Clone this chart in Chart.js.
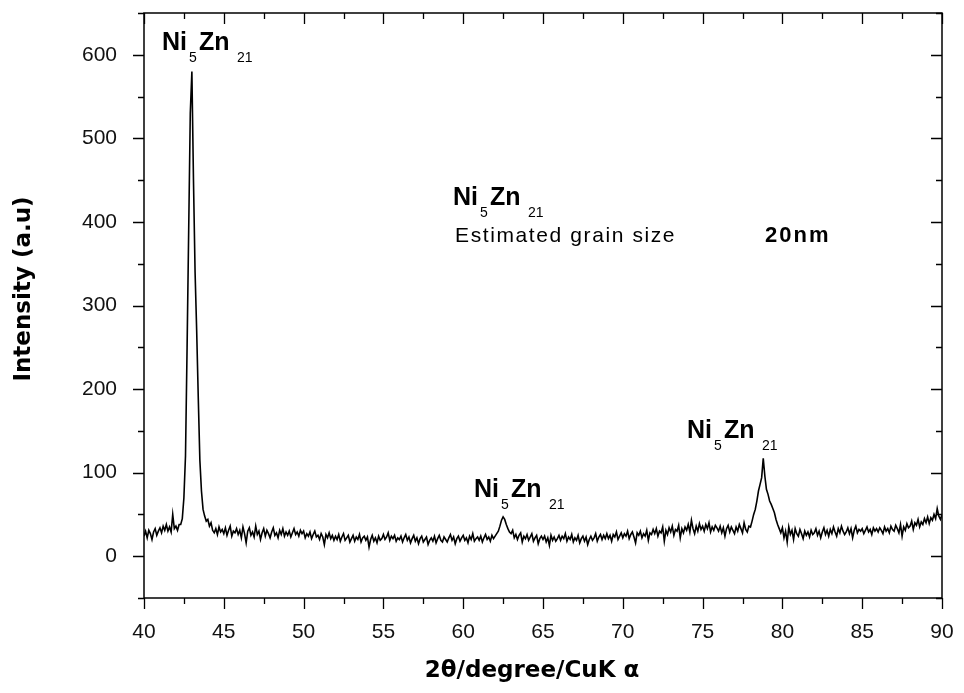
<!DOCTYPE html>
<html>
<head>
<meta charset="utf-8">
<title>Ni5Zn21 XRD</title>
<script src="https://cdn.jsdelivr.net/npm/chart.js@4.4.1/dist/chart.umd.min.js"></script>
<style>
  html, body { margin: 0; padding: 0; background: #fff; }
  #wrap { width: 964px; height: 693px; }
</style>
</head>
<body>
<div id="wrap"><canvas id="xrd" width="964" height="693"></canvas></div>
<script>
// 2theta axis: first angle and step of the scan (degrees)
const twoThetaStart = 40;
const twoThetaStep = 0.1;

// intensity, one row per degree (40.0 ... 40.9, 41.0 ...)
const intensity = [
  24, 30, 22, 31, 27, 20, 29, 33, 25, 30,
  34, 28, 36, 31, 38, 30, 35, 29, 50, 33,
  36, 31, 38, 38, 45, 70, 120, 250, 390, 530,
  580, 450, 340, 270, 190, 115, 78, 56, 48, 42,
  44, 36, 40, 31, 28, 33, 26, 35, 29, 32,
  27, 34, 25, 31, 36, 24, 30, 28, 33, 26,
  31, 22, 35, 27, 16, 30, 34, 25, 29, 23,
  36, 26, 30, 20, 28, 33, 24, 31, 27, 22,
  29, 34, 25, 28, 22, 31, 26, 33, 24, 29,
  25, 30, 23, 28, 33, 26, 29, 24, 31, 27,
  30, 22, 27, 24, 29, 21, 26, 30, 23, 25,
  20, 27, 23, 14, 26, 22, 28, 21, 25, 19,
  24, 20, 26, 18, 23, 27, 19, 22, 25, 17,
  21, 25, 18, 23, 20, 26, 17, 22, 24, 19,
  23, 11, 20, 25, 18, 22, 16, 24, 19, 21,
  26, 20, 23, 28, 19, 24, 21, 25, 18, 22,
  20, 24, 17, 22, 26, 19, 23, 16, 21, 25,
  18, 22, 15, 21, 24, 17, 20, 23, 14, 19,
  22, 18, 24, 16, 21, 25, 19, 17, 23, 20,
  17, 22, 26, 19, 23, 15, 21, 24, 18, 22,
  25, 19, 22, 16, 24, 20, 27, 18, 21, 23,
  19, 24, 17, 22, 26, 20, 23, 18, 25, 21,
  24, 27, 30, 36, 43, 47, 44, 38, 33, 29,
  27, 31, 22, 26, 20, 25, 28, 17, 24, 21,
  26, 19, 23, 27, 18, 22, 25, 15, 21, 24,
  20, 24, 17, 22, 13, 25, 19, 23, 18, 21,
  25, 19, 24, 21, 27, 18, 23, 20, 26, 17,
  22, 19, 25, 16, 21, 24, 18, 23, 14, 20,
  24, 19, 22, 27, 18, 23, 26, 20, 25, 21,
  27, 21, 25, 18, 26, 23, 29, 20, 24, 28,
  22, 27, 24, 30, 21, 26, 29, 23, 16, 28,
  25, 30, 22, 27, 24, 31, 19, 28, 26, 32,
  27, 33, 24, 30, 28, 35, 18, 31, 26, 34,
  29, 36, 25, 32, 30, 37, 22, 33, 28, 35,
  31, 38, 29, 43, 33, 27, 36, 30, 39, 32,
  36, 30, 38, 33, 40, 29, 35, 31, 37, 34,
  30, 36, 28, 34, 24, 33, 37, 29, 35, 31,
  27, 35, 30, 38, 33, 28, 40, 32, 29, 36,
  35, 42, 50, 56, 66, 78, 86, 94, 117, 96,
  80, 74, 66, 62, 57, 52, 44, 38, 33, 28,
  34, 22, 30, 17, 35, 26, 31, 20, 33, 27,
  24, 32, 27, 21, 30, 25, 29, 23, 31, 26,
  28, 33, 25, 30, 22, 29, 34, 26, 31, 24,
  32, 27, 35, 29, 24, 33, 28, 36, 30, 26,
  29, 34, 27, 33, 22, 31, 36, 28, 32, 30,
  33, 27, 31, 35, 29, 32, 26, 34, 30, 33,
  29, 34, 31, 27, 35, 30, 33, 28, 36, 32,
  30, 37, 33, 28, 38, 24, 35, 31, 39, 34,
  36, 42, 32, 40, 37, 44, 35, 41, 38, 45,
  40, 47, 39, 46, 43, 50, 45, 57, 48, 44,
  50
];

const xMajorTicks = [40, 45, 50, 55, 60, 65, 70, 75, 80, 85, 90];
const yMajorTicks = [0, 100, 200, 300, 400, 500, 600];

// phase labels, anchored in data units (2theta, intensity at text baseline)
const phaseLabels = [
  { x: 41.13, y: 606 },
  { x: 59.36, y: 420 },
  { x: 60.68, y: 71 },
  { x: 74.02, y: 142 }
];
const grainNote = { text: 'Estimated grain size', value: '20nm', x: 59.49, valueX: 78.91, y: 376 };

const points = intensity.map((v, i) => ({ x: +(twoThetaStart + i * twoThetaStep).toFixed(2), y: v }));

function drawPhase(ctx, px, py) {
  ctx.textAlign = 'left';
  ctx.textBaseline = 'alphabetic';
  ctx.font = 'bold 25px "Liberation Sans", Arial, sans-serif';
  ctx.fillText('Ni', px, py);
  ctx.fillText('Zn', px + 37, py);
  ctx.font = '14px "Liberation Sans", Arial, sans-serif';
  ctx.fillText('5', px + 27, py + 12);
  ctx.fillText('21', px + 75, py + 12);
}

const framePlugin = {
  id: 'frame',
  afterDraw(chart) {
    const { ctx, chartArea: a, scales: { x, y } } = chart;
    ctx.save();
    ctx.strokeStyle = '#000';
    ctx.fillStyle = '#000';
    ctx.lineWidth = 1.5;
    ctx.strokeRect(a.left, a.top, a.right - a.left, a.bottom - a.top);

    ctx.lineWidth = 1.3;
    ctx.beginPath();
    x.ticks.forEach(t => {
      const px = Math.round(x.getPixelForValue(t.value)) + 0.5;
      const len = xMajorTicks.includes(t.value) ? 11 : 6;
      ctx.moveTo(px, a.bottom); ctx.lineTo(px, a.bottom + len);
      ctx.moveTo(px, a.top); ctx.lineTo(px, a.top + len);
    });
    y.ticks.forEach(t => {
      const py = Math.round(y.getPixelForValue(t.value)) + 0.5;
      const len = t.value % 100 === 0 ? 11 : 6;
      ctx.moveTo(a.left - len, py); ctx.lineTo(a.left, py);
      ctx.moveTo(a.right - len, py); ctx.lineTo(a.right, py);
    });
    ctx.stroke();

    // axis titles
    ctx.font = 'bold 23px "DejaVu Sans", sans-serif';
    ctx.textAlign = 'center';
    ctx.textBaseline = 'middle';
    ctx.fillText('2θ/degree/CuK α', 532, 671);
    ctx.save();
    ctx.translate(24, 289);
    ctx.rotate(-Math.PI / 2);
    ctx.fillText('Intensity (a.u)', 0, 0);
    ctx.restore();

    // phase labels and grain size note
    phaseLabels.forEach(l => drawPhase(ctx, x.getPixelForValue(l.x), y.getPixelForValue(l.y)));
    ctx.textAlign = 'left';
    ctx.textBaseline = 'alphabetic';
    ctx.font = '21px "Liberation Sans", Arial, sans-serif';
    ctx.letterSpacing = '1.6px';
    ctx.fillText(grainNote.text, x.getPixelForValue(grainNote.x), y.getPixelForValue(grainNote.y));
    ctx.font = 'bold 22px "Liberation Sans", Arial, sans-serif';
    ctx.letterSpacing = '2px';
    ctx.fillText(grainNote.value, x.getPixelForValue(grainNote.valueX), y.getPixelForValue(grainNote.y));
    ctx.letterSpacing = '0px';
    ctx.restore();
  }
};

const tickFont = { family: '"Liberation Sans", Arial, sans-serif', size: 21 };

function noEdgePadding(s) {
  s.paddingTop = 0;
  s.paddingBottom = 0;
  s.paddingLeft = 0;
  s.paddingRight = 0;
}

new Chart(document.getElementById('xrd'), {
  type: 'line',
  data: {
    datasets: [{
      data: points,
      borderColor: '#000',
      borderWidth: 1.6,
      pointRadius: 0,
      tension: 0,
      fill: false
    }]
  },
  options: {
    responsive: false,
    animation: false,
    devicePixelRatio: 1,
    layout: { padding: { top: 13, right: 22, left: 0, bottom: 0 } },
    plugins: { legend: { display: false }, tooltip: { enabled: false } },
    scales: {
      x: {
        type: 'linear',
        min: 40,
        max: 90,
        grid: { display: false, drawTicks: false },
        border: { display: false },
        ticks: {
          stepSize: 2.5,
          autoSkip: false,
          maxRotation: 0,
          color: '#111',
          font: tickFont,
          padding: 22,
          callback: v => xMajorTicks.includes(v) ? String(v) : ''
        },
        afterFit: s => { s.height = 95; noEdgePadding(s); }
      },
      y: {
        min: -50,
        max: 650,
        grid: { display: false, drawTicks: false },
        border: { display: false },
        ticks: {
          stepSize: 50,
          autoSkip: false,
          color: '#111',
          font: tickFont,
          padding: 27,
          callback: v => yMajorTicks.includes(v) ? String(v) : ''
        },
        afterFit: s => { s.width = 144; noEdgePadding(s); }
      }
    }
  },
  plugins: [framePlugin]
});
</script>
</body>
</html>
